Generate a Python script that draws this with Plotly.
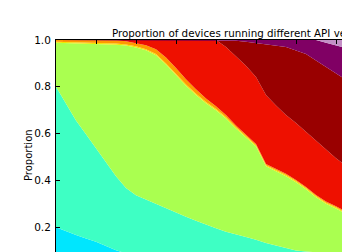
import plotly.graph_objects as go

# time axis (one tick per unit), sampled every quarter unit
x = [i * 0.25 for i in range(30)]
x_ticks = [0, 1, 2, 3, 4, 5, 6, 7]

y_ticks = [0.2, 0.4, 0.6, 0.8, 1.0]
y_tick_labels = ["0.2", "0.4", "0.6", "0.8", "1.0"]

# cumulative proportion (top edge of each stacked band), bottom to top
cum_v1 = [0.200, 0.182, 0.167, 0.152, 0.138, 0.120, 0.102, 0.088, 0.076, 0.066,
          0.058, 0.051, 0.045, 0.040, 0.036, 0.032, 0.029, 0.026, 0.024, 0.022,
          0.020, 0.018, 0.017, 0.016, 0.015, 0.014, 0.013, 0.012, 0.011, 0.010]
cum_v2 = [0.800, 0.726, 0.656, 0.597, 0.540, 0.478, 0.418, 0.368, 0.337, 0.318,
          0.300, 0.280, 0.262, 0.245, 0.228, 0.210, 0.195, 0.181, 0.168, 0.158,
          0.146, 0.132, 0.122, 0.110, 0.100, 0.096, 0.093, 0.090, 0.087, 0.084]
cum_v3 = [0.988, 0.987, 0.986, 0.985, 0.984, 0.982, 0.980, 0.976, 0.968, 0.956,
          0.935, 0.895, 0.850, 0.805, 0.765, 0.730, 0.700, 0.665, 0.622, 0.585,
          0.545, 0.460, 0.438, 0.418, 0.392, 0.362, 0.328, 0.300, 0.280, 0.256]
cum_v4 = [0.993, 0.992, 0.991, 0.990, 0.989, 0.987, 0.985, 0.981, 0.973, 0.961,
          0.940, 0.900, 0.855, 0.810, 0.770, 0.735, 0.705, 0.670, 0.627, 0.590,
          0.550, 0.465, 0.443, 0.423, 0.397, 0.367, 0.333, 0.305, 0.285, 0.261]
cum_v5 = [1.000, 1.000, 1.000, 1.000, 1.000, 1.000, 0.999, 0.995, 0.988, 0.978,
          0.960, 0.925, 0.880, 0.832, 0.790, 0.750, 0.717, 0.680, 0.635, 0.597,
          0.556, 0.470, 0.448, 0.428, 0.402, 0.372, 0.338, 0.310, 0.290, 0.266]
cum_v6 = [1.000, 1.000, 1.000, 1.000, 1.000, 1.000, 1.000, 1.000, 1.000, 1.000,
          1.000, 1.000, 1.000, 1.000, 1.000, 1.000, 1.000, 0.970, 0.930, 0.890,
          0.842, 0.765, 0.720, 0.680, 0.645, 0.607, 0.570, 0.535, 0.495, 0.462]
cum_v7 = [1.000, 1.000, 1.000, 1.000, 1.000, 1.000, 1.000, 1.000, 1.000, 1.000,
          1.000, 1.000, 1.000, 1.000, 1.000, 1.000, 1.000, 0.999, 0.997, 0.993,
          0.987, 0.980, 0.975, 0.970, 0.955, 0.940, 0.912, 0.885, 0.860, 0.830]
cum_v8 = [1.000, 1.000, 1.000, 1.000, 1.000, 1.000, 1.000, 1.000, 1.000, 1.000,
          1.000, 1.000, 1.000, 1.000, 1.000, 1.000, 1.000, 1.000, 1.000, 1.000,
          1.000, 1.000, 1.000, 1.000, 1.000, 1.000, 1.000, 0.988, 0.976, 0.966]
cum_v9 = [1.000] * 30

series_names = ["API 1", "API 2", "API 3", "API 4", "API 5",
                "API 6", "API 7", "API 8", "API 9"]
series = [cum_v1, cum_v2, cum_v3, cum_v4, cum_v5, cum_v6, cum_v7, cum_v8, cum_v9]
colors = ["#00e6fe", "#3effc4", "#aaff50", "#f2e800", "#ff9a00",
          "#ee1000", "#990000", "#800064", "#c38fc6"]

fig = go.Figure()
for i, (name, ys, c) in enumerate(zip(series_names, series, colors)):
    fig.add_trace(go.Scatter(
        x=x, y=ys, name=name, mode="lines",
        line=dict(width=0, color=c),
        fill="tozeroy" if i == 0 else "tonexty",
        fillcolor=c, hoverinfo="skip", showlegend=False,
    ))

W, H = 342, 252
ml, mt = 56, 40
fig.update_layout(
    width=W, height=H,
    margin=dict(l=ml, r=0, t=mt, b=0, pad=0),
    paper_bgcolor="white", plot_bgcolor="white",
    font=dict(family="DejaVu Sans", size=10, color="black"),
    showlegend=False,
)
fig.update_xaxes(
    range=[0, 7.15], side="top", showgrid=False, zeroline=False,
    showline=True, linecolor="black", linewidth=1,
    tickvals=x_ticks, ticks="inside", ticklen=4, tickcolor="black",
    showticklabels=False,
)
fig.update_yaxes(
    range=[0.094, 1.0], showgrid=False, zeroline=False,
    showline=True, linecolor="black", linewidth=1,
    tickvals=y_ticks, ticktext=y_tick_labels,
    ticks="inside", ticklen=4, tickcolor="black",
    tickfont=dict(size=10.5, color="black"), ticklabelstandoff=2,
)

pw, ph = W - ml, H - mt
fig.add_annotation(
    text="Proportion of devices running different API versions",
    xref="paper", yref="paper", x=(110 - ml) / pw, y=1.0,
    xanchor="left", yanchor="bottom", showarrow=False, yshift=-1,
    font=dict(size=10.3, color="black"),
)
fig.add_annotation(
    text="Proportion", textangle=-90,
    xref="paper", yref="paper", x=(28 - ml) / pw, y=(H - 155) / ph,
    xanchor="center", yanchor="middle", showarrow=False,
    font=dict(size=10, color="black"),
)

fig.write_html("out.html")
